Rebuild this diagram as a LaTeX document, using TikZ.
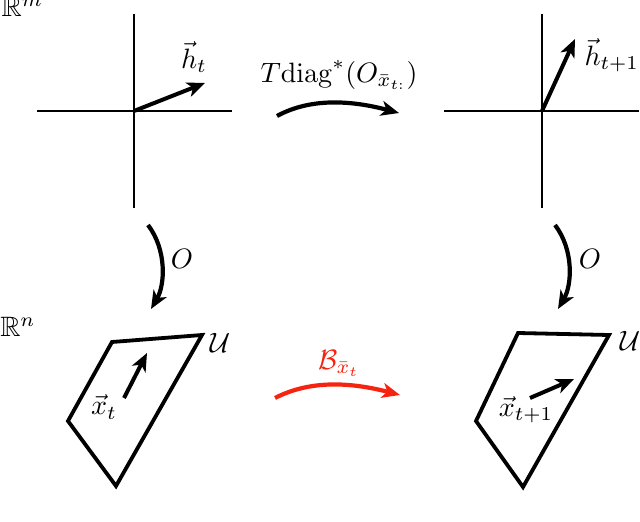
\documentclass[tikz,border=0pt]{standalone}
\usepackage{amssymb}
\usetikzlibrary{arrows.meta}
\definecolor{bred}{RGB}{245,35,15}
\begin{document}
\begin{tikzpicture}[x=0.5pt,y=-0.5pt,
  axis/.style={line width=1.2pt},
  region/.style={line width=1.9pt,line join=miter},
  vec/.style={line width=2pt,-{Stealth[length=9pt,width=7.5pt,inset=2.5pt]}},
  maparrow/.style={line width=2.1pt,-{Stealth[length=9pt,width=7.5pt,inset=2.5pt]}},
  lbl/.style={inner sep=0pt,scale=1.4}]
\useasboundingbox (0,0) rectangle (640,522);
% top left axes
\coordinate (o1) at (134,111);
\draw[axis] (37,111) -- (232,111);
\draw[axis] (134,14) -- (134,208);
\coordinate (h1) at (205,83);
\draw[vec] (o1) -- (h1);
\node[lbl] (ht) at (194,57) {$\vec{h}_t$};
% top right axes
\coordinate (o2) at (542,111);
\draw[axis] (444,111) -- (639,111);
\draw[axis] (542,14) -- (542,208);
\coordinate (h2) at (575,39);
\draw[vec] (o2) -- (h2);
\node[lbl,anchor=west] (ht1) at (584,55) {$\vec{h}_{t+1}$};
% space labels
\node[lbl,anchor=north west] (Rm) at (1,-3) {$\mathbb{R}^m$};
\node[lbl] (Rn) at (18,327) {$\mathbb{R}^n$};
% top map
\coordinate (ta) at (277,116);
\coordinate (tb) at (399,113);
\draw[maparrow] (ta) .. controls (310,98) and (350,100) .. (tb);
\node[lbl] (Tlab) at (339,75) {$T\mathrm{diag}^*(O_{\bar{x}_{t:}})$};
% down maps
\coordinate (la) at (148,225);
\coordinate (lb) at (151,309);
\draw[maparrow] (la) .. controls (167,250) and (165,285) .. (lb);
\node[lbl] (Ol) at (182,259) {$O$};
\coordinate (ra) at (555,225);
\coordinate (rb) at (558,309);
\draw[maparrow] (ra) .. controls (574,250) and (572,285) .. (rb);
\node[lbl] (Or) at (590,259) {$O$};
% left region
\draw[region] (112,342) -- (202,335) -- (116,486) -- (68,421) -- cycle;
\node[lbl] (Ul) at (220,343) {$\mathcal{U}$};
\coordinate (xa) at (124,398);
\coordinate (xb) at (147,353);
\draw[vec] (xa) -- (xb);
\node[lbl] (xt) at (104,407) {$\vec{x}_t$};
% right region
\draw[region] (518,333) -- (609,335) -- (523,487) -- (476,421) -- cycle;
\node[lbl] (Ur) at (630,341) {$\mathcal{U}$};
\coordinate (ya) at (530,398);
\coordinate (yb) at (574,379);
\draw[vec] (ya) -- (yb);
\node[lbl] (xt1) at (526,410) {$\vec{x}_{t+1}$};
% red map
\coordinate (ba) at (275,398);
\coordinate (bb) at (400,395);
\draw[maparrow,bred] (ba) .. controls (310,380) and (350,382) .. (bb);
\node[lbl,text=bred] (Blab) at (339,363) {$\mathcal{B}_{\bar{x}_t}$};
\end{tikzpicture}
\end{document}
